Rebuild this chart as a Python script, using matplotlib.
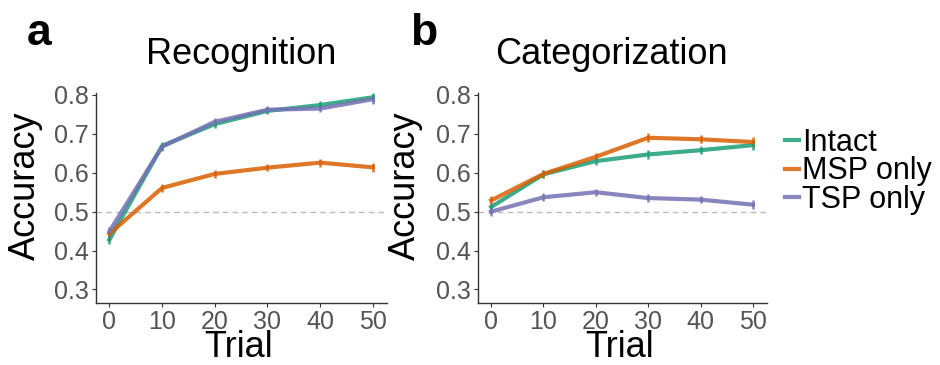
import numpy as np
import matplotlib.pyplot as plt

plt.rcParams['font.family'] = ['Liberation Sans', 'DejaVu Sans']

trials = [0, 10, 20, 30, 40, 50]
groups = ['Intact', 'MSP only', 'TSP only']
colors = ['#1B9E77', '#D95F02', '#7570B3']

recog_intact = [0.428, 0.669, 0.725, 0.759, 0.774, 0.794]
recog_msp = [0.443, 0.561, 0.597, 0.613, 0.626, 0.614]
recog_tsp = [0.449, 0.667, 0.731, 0.762, 0.765, 0.789]
recog_err = [0.012, 0.010, 0.010, 0.009, 0.010, 0.011]

categ_intact = [0.512, 0.596, 0.630, 0.647, 0.658, 0.671]
categ_msp = [0.529, 0.597, 0.641, 0.690, 0.686, 0.679]
categ_tsp = [0.500, 0.537, 0.550, 0.535, 0.531, 0.518]
categ_err = [0.011, 0.010, 0.009, 0.011, 0.010, 0.012]

W, H = 940, 365
fig = plt.figure(figsize=(9.4, 3.65), dpi=100)

def draw(left, right, series, err, title, letter, title_x, letter_x, ylab_right):
    ax = fig.add_axes([left / W, (H - 303.3) / H, (right - left) / W, (303.3 - 93) / H])
    ax.axhline(0.5, color='#bbbbbb', lw=1.0, ls=(0, (4, 3)), zorder=1)
    for vals, c in zip(series, colors):
        ax.errorbar(trials, vals, yerr=err, color=c, lw=3.0, alpha=0.85,
                    elinewidth=1.8, capsize=0, zorder=3)
    ax.set_xlim(-2.6, 52.7)
    ax.set_ylim(0.2645, 0.805)
    ax.set_xticks(trials)
    ax.set_yticks([0.3, 0.4, 0.5, 0.6, 0.7, 0.8])
    ax.set_yticklabels(['0.3', '0.4', '0.5', '0.6', '0.7', '0.8'])
    for s in ['top', 'right']:
        ax.spines[s].set_visible(False)
    for s in ['left', 'bottom']:
        ax.spines[s].set_color('#333333')
        ax.spines[s].set_linewidth(1.0)
    ax.tick_params(colors='#333333', labelcolor='#555555', labelsize=18,
                   length=3, width=0.8, pad=2)
    ax.set_xlabel('Trial', fontsize=26)
    ax.xaxis.set_label_coords(0.49, -(357 - 303.3) / 210.3)
    ax.xaxis.label.set_va('baseline')
    ax.set_ylabel('Accuracy', fontsize=26)
    ax.yaxis.set_label_coords(-(left - ylab_right) / (right - left), 0.557)
    fig.text(title_x / W, (H - 64) / H, title, fontsize=26, ha='center', va='baseline')
    fig.text(letter_x / W, (H - 45) / H, letter, fontsize=32, fontweight='bold',
             ha='left', va='baseline')
    return ax

draw(95.7, 387, [recog_intact, recog_msp, recog_tsp], recog_err,
     'Recognition', 'a', 241.5, 27, 43)
draw(477.5, 767, [categ_intact, categ_msp, categ_tsp], categ_err,
     'Categorization', 'b', 611, 410, 423)

handles = [plt.Line2D([], [], color=c, lw=3.0, alpha=0.85) for c in colors]
fig.legend(handles, groups, loc='upper left', bbox_to_anchor=(785 / W, (H - 128) / H),
           frameon=False, fontsize=22, handlelength=0.45, handletextpad=0.12,
           labelspacing=-0.05, borderaxespad=0, borderpad=0)

fig.savefig('out.png', dpi=100)
